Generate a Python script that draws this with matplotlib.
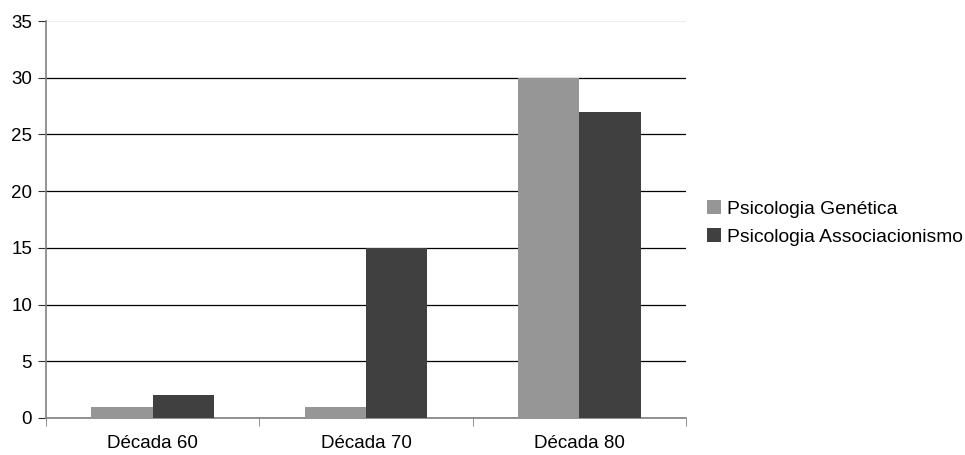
import matplotlib
matplotlib.use("Agg")
import matplotlib.pyplot as plt
import numpy as np

categories = ["Década 60", "Década 70", "Década 80"]
series_names = ["Psicologia Genética", "Psicologia Associacionismo"]
genetica = [1, 1, 30]
associacionismo = [2, 15, 27]
colors = ["#969696", "#404040"]

plt.rcParams['font.family'] = ['Liberation Sans', 'DejaVu Sans']
FS = 13.5

fig = plt.figure(figsize=(9.65, 4.55), dpi=100)
ax = fig.add_axes([46/965, 37/455, 640/965, 397/455])

x = np.arange(len(categories))
w = 0.288
ax.bar(x - w/2, genetica, w, color=colors[0], label=series_names[0], zorder=3)
ax.bar(x + w/2, associacionismo, w, color=colors[1], label=series_names[1], zorder=3)

ax.set_xlim(-0.5, len(categories) - 0.5)
ax.set_ylim(0, 35)
ax.set_yticks(range(0, 36, 5))
ax.yaxis.grid(True, color="black", linewidth=0.9, zorder=0)
gl = ax.get_ygridlines()
gl[-1].set_color('#eeeeee')
ax.set_axisbelow(True)

ax.set_xticks(x)
ax.set_xticklabels(categories, fontsize=FS)
ax.tick_params(axis='x', length=0, pad=12)
ax.set_xticks(np.arange(-0.5, len(categories), 1), minor=True)
ax.tick_params(axis='x', which='minor', length=6, direction='out', color='#808080')
ax.tick_params(axis='y', length=6, direction='out', color='#303030', labelsize=FS, pad=4)

for s in ['top', 'right']:
    ax.spines[s].set_visible(False)
ax.spines['left'].set_color('#808080')
ax.spines['bottom'].set_color('#808080')
ax.spines['left'].set_linewidth(1.2)
ax.spines['bottom'].set_linewidth(1.2)

leg = fig.legend(loc='upper left', bbox_to_anchor=(699/965, 1 - 192/455), frameon=False,
                 fontsize=13.9, handlelength=0.75, handleheight=0.75, handletextpad=0.3,
                 labelspacing=0.55, borderaxespad=0)

fig.savefig("out.png", dpi=100)
